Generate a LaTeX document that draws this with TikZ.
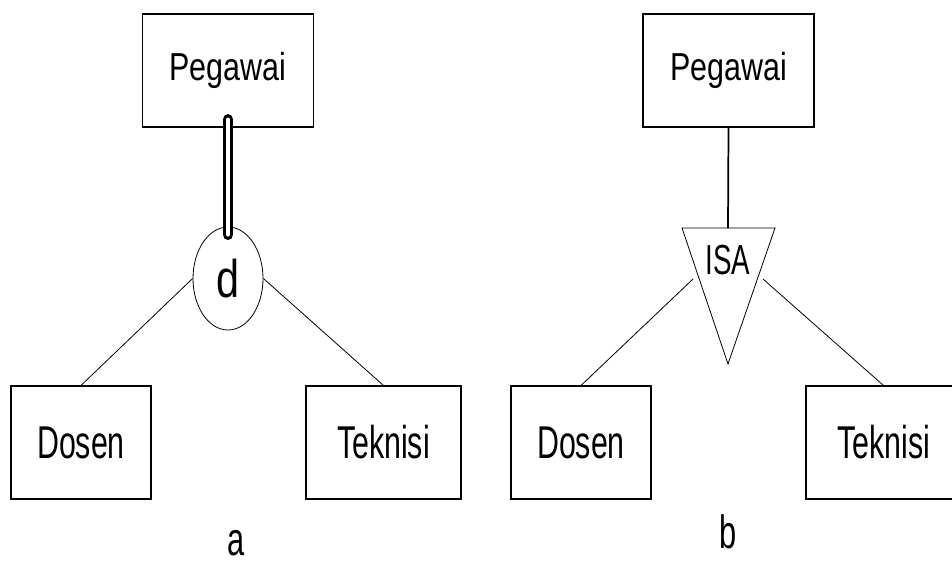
\documentclass[tikz,border=0pt]{standalone}
\usepackage{fontspec}
\usetikzlibrary{shapes.geometric}
\setmainfont{Liberation Sans}
\newfontfamily\narrowfont[FakeStretch=0.66]{Liberation Sans}
\newfontfamily\midfont[FakeStretch=0.78]{Liberation Sans}
\begin{document}
\begin{tikzpicture}[
    x=0.75pt, y=-0.75pt,
    ent/.style={draw, black, line width=0.8pt, rectangle, inner sep=0pt,
                minimum height=84.75pt, font=\narrowfont\fontsize{34.5}{34.5}\selectfont},
    topent/.style={ent, minimum width=128pt, font=\midfont\fontsize{29.25}{29.25}\selectfont},
    lnk/.style={black, line width=0.6pt},
    lab/.style={font=\narrowfont\fontsize{35}{35}\selectfont, inner sep=0pt},
  ]

  % ---- bordo: 952 x 565 px, la scatola a destra esce dal foglio ------------
  \useasboundingbox (0,0) rectangle (952,565);
  \clip (0,0) rectangle (952,565);

  % ---- (a) specializzazione disgiunta, partecipazione totale ----------------
  \node[topent] (pegA) at (228,70.5) {Pegawai};
  \node[ent, minimum width=105pt]    (dosA) at (81,442.5)  {Dosen};
  \node[ent, minimum width=116.25pt] (tekA) at (383.5,442.5) {Teknisi};
  \node[draw, ellipse, line width=0.6pt, inner sep=0pt,
        minimum width=52.5pt, minimum height=77.25pt,
        font=\midfont\fontsize{39.75}{39.75}\selectfont] (dA) at (228,278.5) {d};

  \draw[line width=2.6pt, double, double distance=3pt, line cap=round]
    ([yshift=6pt]pegA.south) -- ([yshift=-6pt]dA.north);     % totale
  \draw[lnk] (dA.west) -- (dosA.north);
  \draw[lnk] (dA.east) -- (tekA.north);

  \node[lab] (capA) at (236,543) {a};

  % ---- (b) ISA ---------------------------------------------------------------
  \node[topent, minimum width=128.25pt] (pegB) at (728.5,70.5) {Pegawai};
  \node[ent, minimum width=105pt]    (dosB) at (581,442.5)  {Dosen};
  \node[ent, minimum width=116.25pt] (tekB) at (883.5,442.5) {Teknisi};

  \coordinate (isaL) at (682,228);
  \coordinate (isaR) at (775,228);
  \coordinate (isaB) at (728,364);
  \coordinate (isaT) at (728,228);
  \coordinate (isaW) at (693,279);
  \coordinate (isaE) at (763,279);
  \draw[lnk] (isaL) -- (isaR) -- (isaB) -- cycle;
  \node[font=\narrowfont\fontsize{31.5}{31.5}\selectfont, inner sep=0pt] (isa) at (728,260) {ISA};

  \draw[black, line width=1.3pt] (pegB.south) -- (isaT);
  \draw[lnk] (isaW) -- (dosB.north);
  \draw[lnk] (isaE) -- (tekB.north);

  \node[lab] (capB) at (728,532) {b};

\end{tikzpicture}
\end{document}
